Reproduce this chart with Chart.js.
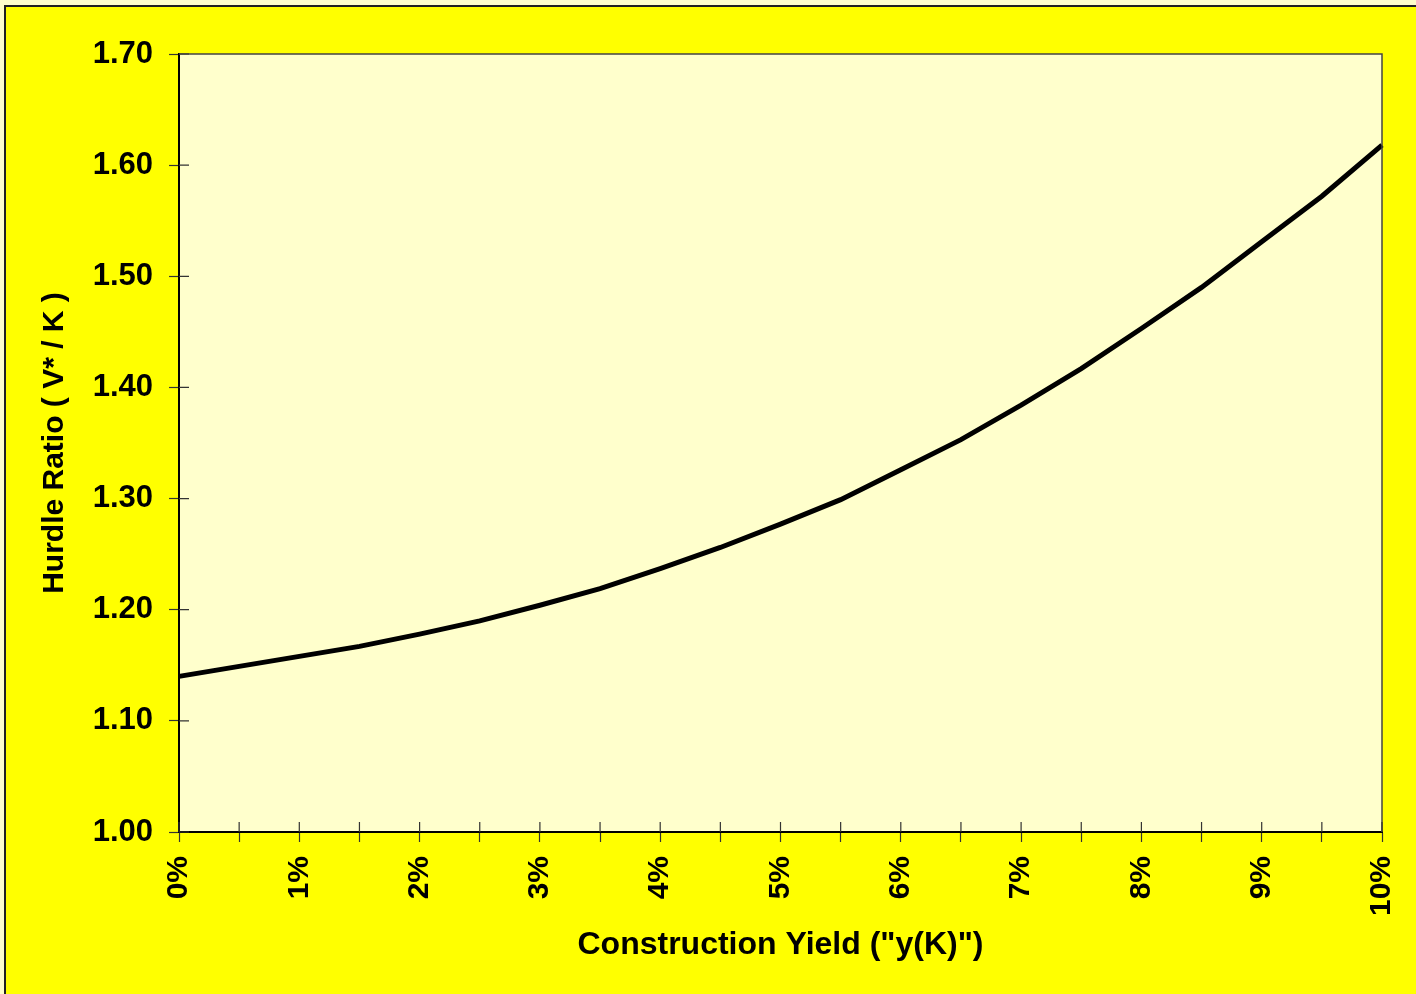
<!DOCTYPE html>
<html>
<head>
<meta charset="utf-8">
<script src="https://cdn.jsdelivr.net/npm/chart.js@4.4.1/dist/chart.umd.min.js"></script>
<style>
  html, body { margin: 0; padding: 0; background: #FFFFCC; overflow: hidden; }
  #frame {
    position: absolute; left: 4px; top: 5px;
    width: 1426px; height: 989px;
    border-top: 2px solid #222; border-left: 2px solid #222;
    background: #FFFF00;
  }
  canvas { display: block; }
</style>
</head>
<body>
<div id="frame"><canvas id="myChart" width="1426" height="987"></canvas></div>
<script>
// construction yield in percent, hurdle ratio
var yieldPct = [0, 0.5, 1, 1.5, 2, 2.5, 3, 3.5, 4, 4.5, 5, 5.5, 6, 6.5, 7, 7.5, 8, 8.5, 9, 9.5, 10];
var hurdleRatio = [1.140, 1.149, 1.158, 1.167, 1.178, 1.190, 1.204, 1.219, 1.237, 1.256, 1.277,
                   1.299, 1.326, 1.353, 1.384, 1.417, 1.453, 1.490, 1.531, 1.572, 1.618];
var xTitle = 'Construction Yield ("y(K)")';
var yTitle = 'Hurdle Ratio ( V* / K )';

var points = yieldPct.map(function(x, i) { return {x: x, y: hurdleRatio[i]}; });
var fontFam = "'Liberation Sans', Arial, sans-serif";

// plot area fill, frame and the inner half of the tick marks
var plotFrame = {
    id: 'plotFrame',
    beforeDraw: function(chart) {
        var a = chart.chartArea, ctx = chart.ctx;
        ctx.save();
        ctx.fillStyle = '#FFFFCC';
        ctx.fillRect(a.left, a.top, a.right - a.left, a.bottom - a.top);
        ctx.restore();
    },
    afterDraw: function(chart) {
        var a = chart.chartArea, ctx = chart.ctx;
        ctx.save();
        ctx.strokeStyle = '#444';
        ctx.lineWidth = 1.5;
        ctx.beginPath();
        ctx.moveTo(a.left, a.top); ctx.lineTo(a.right, a.top); ctx.lineTo(a.right, a.bottom);
        ctx.stroke();
        ctx.strokeStyle = '#333';
        ctx.lineWidth = 1.2;
        ctx.beginPath();
        chart.scales.x.ticks.forEach(function(t) {
            var px = chart.scales.x.getPixelForValue(t.value);
            ctx.moveTo(px, a.bottom); ctx.lineTo(px, a.bottom - 10);
        });
        chart.scales.y.ticks.forEach(function(t) {
            var py = chart.scales.y.getPixelForValue(t.value);
            ctx.moveTo(a.left, py); ctx.lineTo(a.left + 10, py);
        });
        ctx.stroke();
        ctx.restore();
    }
};

const ctx = document.getElementById('myChart').getContext('2d');
const myChart = new Chart(ctx, {
    type: 'line',
    data: {
        datasets: [{
            data: points,
            borderColor: '#000',
            borderWidth: 5,
            pointRadius: 0,
            tension: 0,
            clip: false
        }]
    },
    options: {
        responsive: false,
        animation: false,
        layout: { padding: { top: 47, right: 20, left: 0, bottom: 0 } },
        plugins: { legend: { display: false }, tooltip: { enabled: false } },
        scales: {
            x: {
                type: 'linear',
                min: 0,
                max: 10,
                afterFit: function(s) { s.height = 162; },
                border: { color: '#000', width: 2 },
                grid: { drawOnChartArea: false, tickLength: 10, tickColor: '#333', tickWidth: 1.2 },
                ticks: {
                    stepSize: 0.5,
                    autoSkip: false,
                    minRotation: 90,
                    maxRotation: 90,
                    padding: 14,
                    color: '#000',
                    font: { family: fontFam, size: 30, weight: 'bold' },
                    callback: function(v) { return Number.isInteger(v) ? v + '%' : ''; }
                },
                title: {
                    display: true,
                    text: xTitle,
                    color: '#000',
                    font: { family: fontFam, size: 32, weight: 'bold' },
                    padding: { top: 0, bottom: 30 }
                }
            },
            y: {
                min: 1,
                max: 1.7,
                afterFit: function(s) { s.width = 173; },
                border: { color: '#000', width: 2 },
                grid: { drawOnChartArea: false, tickLength: 10, tickColor: '#333', tickWidth: 1.2 },
                ticks: {
                    stepSize: 0.1,
                    padding: 16,
                    color: '#000',
                    font: { family: fontFam, size: 31, weight: 'bold' },
                    callback: function(v) { return v.toFixed(2); }
                },
                title: {
                    display: true,
                    text: yTitle,
                    color: '#000',
                    font: { family: fontFam, size: 30, weight: 'bold' },
                    padding: { top: 31, bottom: 0 }
                }
            }
        }
    },
    plugins: [plotFrame]
});
</script>
</body>
</html>
